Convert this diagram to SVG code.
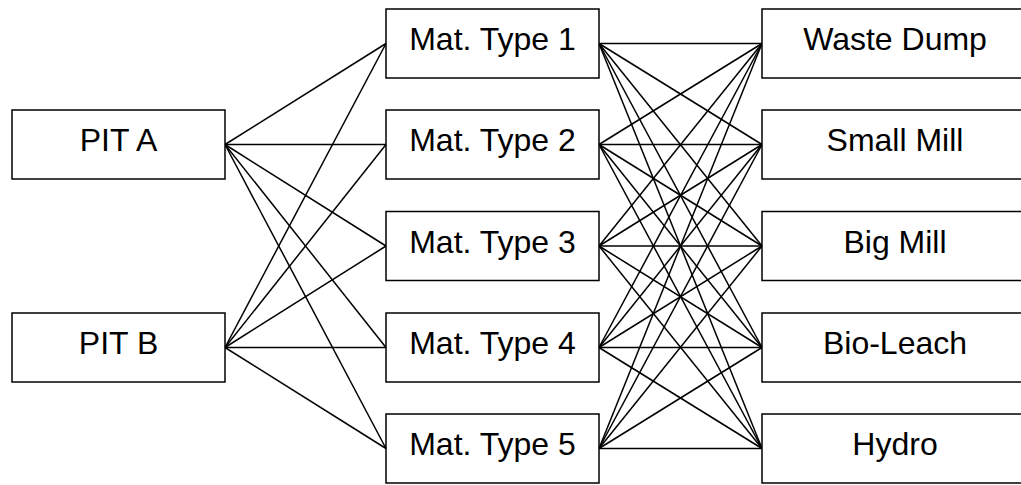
<svg xmlns="http://www.w3.org/2000/svg" width="1021" height="485" viewBox="0 0 1021 485">
<style>
.box{fill:#fff;stroke:#000;stroke-width:1.5}
.lbl{font-family:"Liberation Sans",Arial,sans-serif;font-size:32px;fill:#000;text-anchor:middle}
.c line{stroke:#000;stroke-width:1.5}
</style>
<rect width="1021" height="485" fill="#fff"/>
<g class="c" id="connectors">
<line x1="225" y1="144.5" x2="386" y2="43.5"/>
<line x1="225" y1="144.5" x2="386" y2="144.5"/>
<line x1="225" y1="144.5" x2="386" y2="246"/>
<line x1="225" y1="144.5" x2="386" y2="347.5"/>
<line x1="225" y1="144.5" x2="386" y2="448.5"/>
<line x1="225" y1="347.5" x2="386" y2="43.5"/>
<line x1="225" y1="347.5" x2="386" y2="144.5"/>
<line x1="225" y1="347.5" x2="386" y2="246"/>
<line x1="225" y1="347.5" x2="386" y2="347.5"/>
<line x1="225" y1="347.5" x2="386" y2="448.5"/>
<line x1="599" y1="43.5" x2="762" y2="43.5"/>
<line x1="599" y1="43.5" x2="762" y2="144.5"/>
<line x1="599" y1="43.5" x2="762" y2="246"/>
<line x1="599" y1="43.5" x2="762" y2="347.5"/>
<line x1="599" y1="43.5" x2="762" y2="448.5"/>
<line x1="599" y1="144.5" x2="762" y2="43.5"/>
<line x1="599" y1="144.5" x2="762" y2="144.5"/>
<line x1="599" y1="144.5" x2="762" y2="246"/>
<line x1="599" y1="144.5" x2="762" y2="347.5"/>
<line x1="599" y1="144.5" x2="762" y2="448.5"/>
<line x1="599" y1="246" x2="762" y2="43.5"/>
<line x1="599" y1="246" x2="762" y2="144.5"/>
<line x1="599" y1="246" x2="762" y2="246"/>
<line x1="599" y1="246" x2="762" y2="347.5"/>
<line x1="599" y1="246" x2="762" y2="448.5"/>
<line x1="599" y1="347.5" x2="762" y2="43.5"/>
<line x1="599" y1="347.5" x2="762" y2="144.5"/>
<line x1="599" y1="347.5" x2="762" y2="246"/>
<line x1="599" y1="347.5" x2="762" y2="347.5"/>
<line x1="599" y1="347.5" x2="762" y2="448.5"/>
<line x1="599" y1="448.5" x2="762" y2="43.5"/>
<line x1="599" y1="448.5" x2="762" y2="144.5"/>
<line x1="599" y1="448.5" x2="762" y2="246"/>
<line x1="599" y1="448.5" x2="762" y2="347.5"/>
<line x1="599" y1="448.5" x2="762" y2="448.5"/>
</g>
<g id="pitA"><rect class="box" x="12" y="110" width="213" height="69"/><text class="lbl" x="118.5" y="151">PIT A</text></g>
<g id="pitB"><rect class="box" x="12" y="313" width="213" height="69"/><text class="lbl" x="118.5" y="354">PIT B</text></g>
<g id="mat1"><rect class="box" x="386" y="9" width="213" height="69"/><text class="lbl" x="492.5" y="50">Mat. Type 1</text></g>
<g id="mat2"><rect class="box" x="386" y="110" width="213" height="69"/><text class="lbl" x="492.5" y="151">Mat. Type 2</text></g>
<g id="mat3"><rect class="box" x="386" y="211.5" width="213" height="69"/><text class="lbl" x="492.5" y="252.5">Mat. Type 3</text></g>
<g id="mat4"><rect class="box" x="386" y="313" width="213" height="69"/><text class="lbl" x="492.5" y="354">Mat. Type 4</text></g>
<g id="mat5"><rect class="box" x="386" y="414" width="213" height="69"/><text class="lbl" x="492.5" y="455">Mat. Type 5</text></g>
<g id="waste"><rect class="box" x="762" y="9" width="266" height="69"/><text class="lbl" x="895" y="50">Waste Dump</text></g>
<g id="smallmill"><rect class="box" x="762" y="110" width="266" height="69"/><text class="lbl" x="895" y="151">Small Mill</text></g>
<g id="bigmill"><rect class="box" x="762" y="211.5" width="266" height="69"/><text class="lbl" x="895" y="252.5">Big Mill</text></g>
<g id="bioleach"><rect class="box" x="762" y="313" width="266" height="69"/><text class="lbl" x="895" y="354">Bio-Leach</text></g>
<g id="hydro"><rect class="box" x="762" y="414" width="266" height="69"/><text class="lbl" x="895" y="455">Hydro</text></g>
</svg>
